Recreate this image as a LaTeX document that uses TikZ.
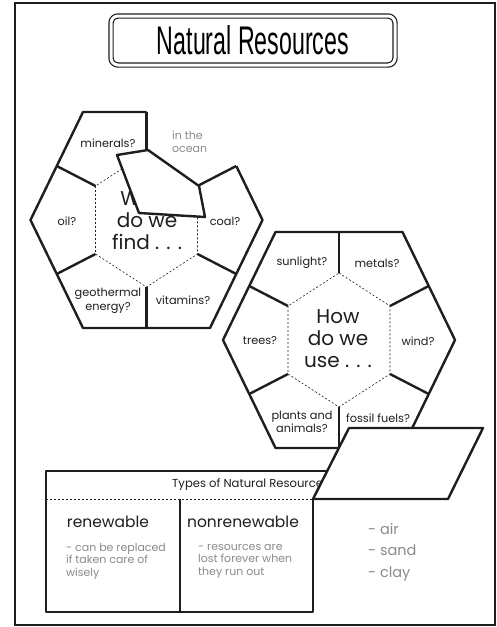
\documentclass[tikz,border=0pt]{standalone}
\usepackage{fontspec}
\setmainfont{Poppins}
\newfontfamily\titlefont[FakeStretch=0.58]{Liberation Sans}
\definecolor{ink}{HTML}{1E1E1E}
\definecolor{note}{HTML}{8A8A8A}

\tikzset{
  piece/.style={line width=2.4pt, draw=ink, line join=round},
  inner/.style={line width=0.6pt, draw=ink, dash pattern=on 2pt off 2pt},
  label/.style={font=\fontsize{11.3}{13.5}\selectfont, text=ink, align=center, inner sep=0pt},
  centre/.style={font=\fontsize{20}{22}\selectfont, text=ink, align=center, inner sep=0pt},
  hint/.style={font=\fontsize{11}{12.5}\selectfont, text=note, align=left, inner sep=0pt},
}

\begin{document}
\begin{tikzpicture}[x=1pt, y=-1pt]
  \useasboundingbox (0,0) rectangle (497,627);

  % Page frame
  \draw[line width=1.8pt, draw=ink] (15,3) rectangle (495,625);

  % Title
  \node[draw=ink, line width=1.2pt, double, double distance=3pt, rounded corners=7pt,
        minimum width=284pt, minimum height=49pt, inner sep=0pt] (title) at (253,40.5)
    {\titlefont\fontsize{40}{40}\selectfont Natural Resources};

  % Hexagon corners, edge midpoints and inner (dashed) corners, one set per wheel
  \foreach \c/\cx/\cy in {f/146.5/220, u/339/340} {
    \begin{scope}[shift={(\cx,\cy)}]
      \foreach \n/\x/\y in {T/0/-108, TL/-63.5/-108, TR/63.5/-108, L/-116/0, R/116/0,
                            BL/-63.5/108, BR/63.5/108, B/0/108,
                            mUL/-89.75/-54, mUR/89.75/-54, mLL/-89.75/54, mLR/89.75/54,
                            t/0/-67, ur/51/-34, lr/51/34, b/0/67, ll/-51/34, ul/-51/-34}
        \coordinate (\c-\n) at (\x,\y);
    \end{scope}
  }

  % Find wheel (top-right piece taken out)
  \draw[inner] (f-t) -- (f-ur) -- (f-lr) -- (f-b) -- (f-ll) -- (f-ul) -- cycle;
  \draw[piece] (f-T) -- (f-TL) -- (f-L) -- (f-BL) -- (f-BR) -- (f-R) -- (f-mUR);
  \foreach \a/\b in {T/t, mUL/ul, mLL/ll, B/b, mLR/lr, mUR/ur}
    \draw[piece] (f-\a) -- (f-\b);

  \node[label] (minerals) at (108,143) {minerals?};
  \node[label] (oil)      at (67,221)  {oil?};
  \node[label] (coal)     at (225,221) {coal?};
  \node[label] (geo)      at (108,301) {geothermal\\energy?};
  \node[label] (vitamins) at (183,300) {vitamins?};
  \node[centre] (find)    at (147,220) {What\\do we\\find . . .};
  \node[hint, anchor=west] (ocean) at (172,142) {in the\\ocean};

  % loose piece lying on the wheel
  \filldraw[piece, fill=white] (117,155) -- (148,150) -- (199,186) -- (205,217)
    -- (139,213) -- cycle;

  % Use wheel
  \draw[inner] (u-t) -- (u-ur) -- (u-lr) -- (u-b) -- (u-ll) -- (u-ul) -- cycle;
  \draw[piece] (u-T) -- (u-TL) -- (u-L) -- (u-BL) -- (u-BR) -- (u-R) -- (u-TR) -- cycle;
  \foreach \a/\b in {T/t, mUL/ul, mLL/ll, B/b, mLR/lr, mUR/ur}
    \draw[piece] (u-\a) -- (u-\b);

  \node[label] (sunlight) at (302,263) {sunlight?};
  \node[label] (metals)   at (377,263) {metals?};
  \node[label] (trees)    at (260,341) {trees?};
  \node[label] (wind)     at (418,341) {wind?};
  \node[label] (plants)   at (302,422) {plants and\\animals?};
  \node[label] (fossil)   at (378,418) {fossil fuels?};
  \node[centre] (use)     at (338,339) {How\\do we\\use . . .};

  % Types table
  \draw[piece] (340,471) -- (46,471) -- (46,612) -- (313,612) -- (313,499);
  \draw[piece] (180,499) -- (180,612);
  \draw[inner, line width=0.8pt] (46,499) -- (313,499);

  \node[label, anchor=west, font=\fontsize{11.6}{13}\selectfont] (types) at (172,485) {Types of Natural Resources};
  \node[label, font=\fontsize{15.5}{18}\selectfont] (renew)    at (108,522) {renewable};
  \node[label, font=\fontsize{15.5}{18}\selectfont] (nonrenew) at (243,522) {nonrenewable};
  \node[hint, anchor=west] (renewnote)    at (66,561)  {- can be replaced\\if taken care of\\wisely};
  \node[hint, anchor=west] (nonrenewnote) at (198,561) {- resources are\\lost forever when\\they run out};
  \node[hint, anchor=west, font=\fontsize{14.5}{21.5}\selectfont] (list) at (368,552) {- air\\- sand\\- clay};

  % loose piece over the table corner
  \filldraw[piece, fill=white] (313,499) -- (349,428) -- (483,428) -- (448,499) -- cycle;
\end{tikzpicture}
\end{document}
